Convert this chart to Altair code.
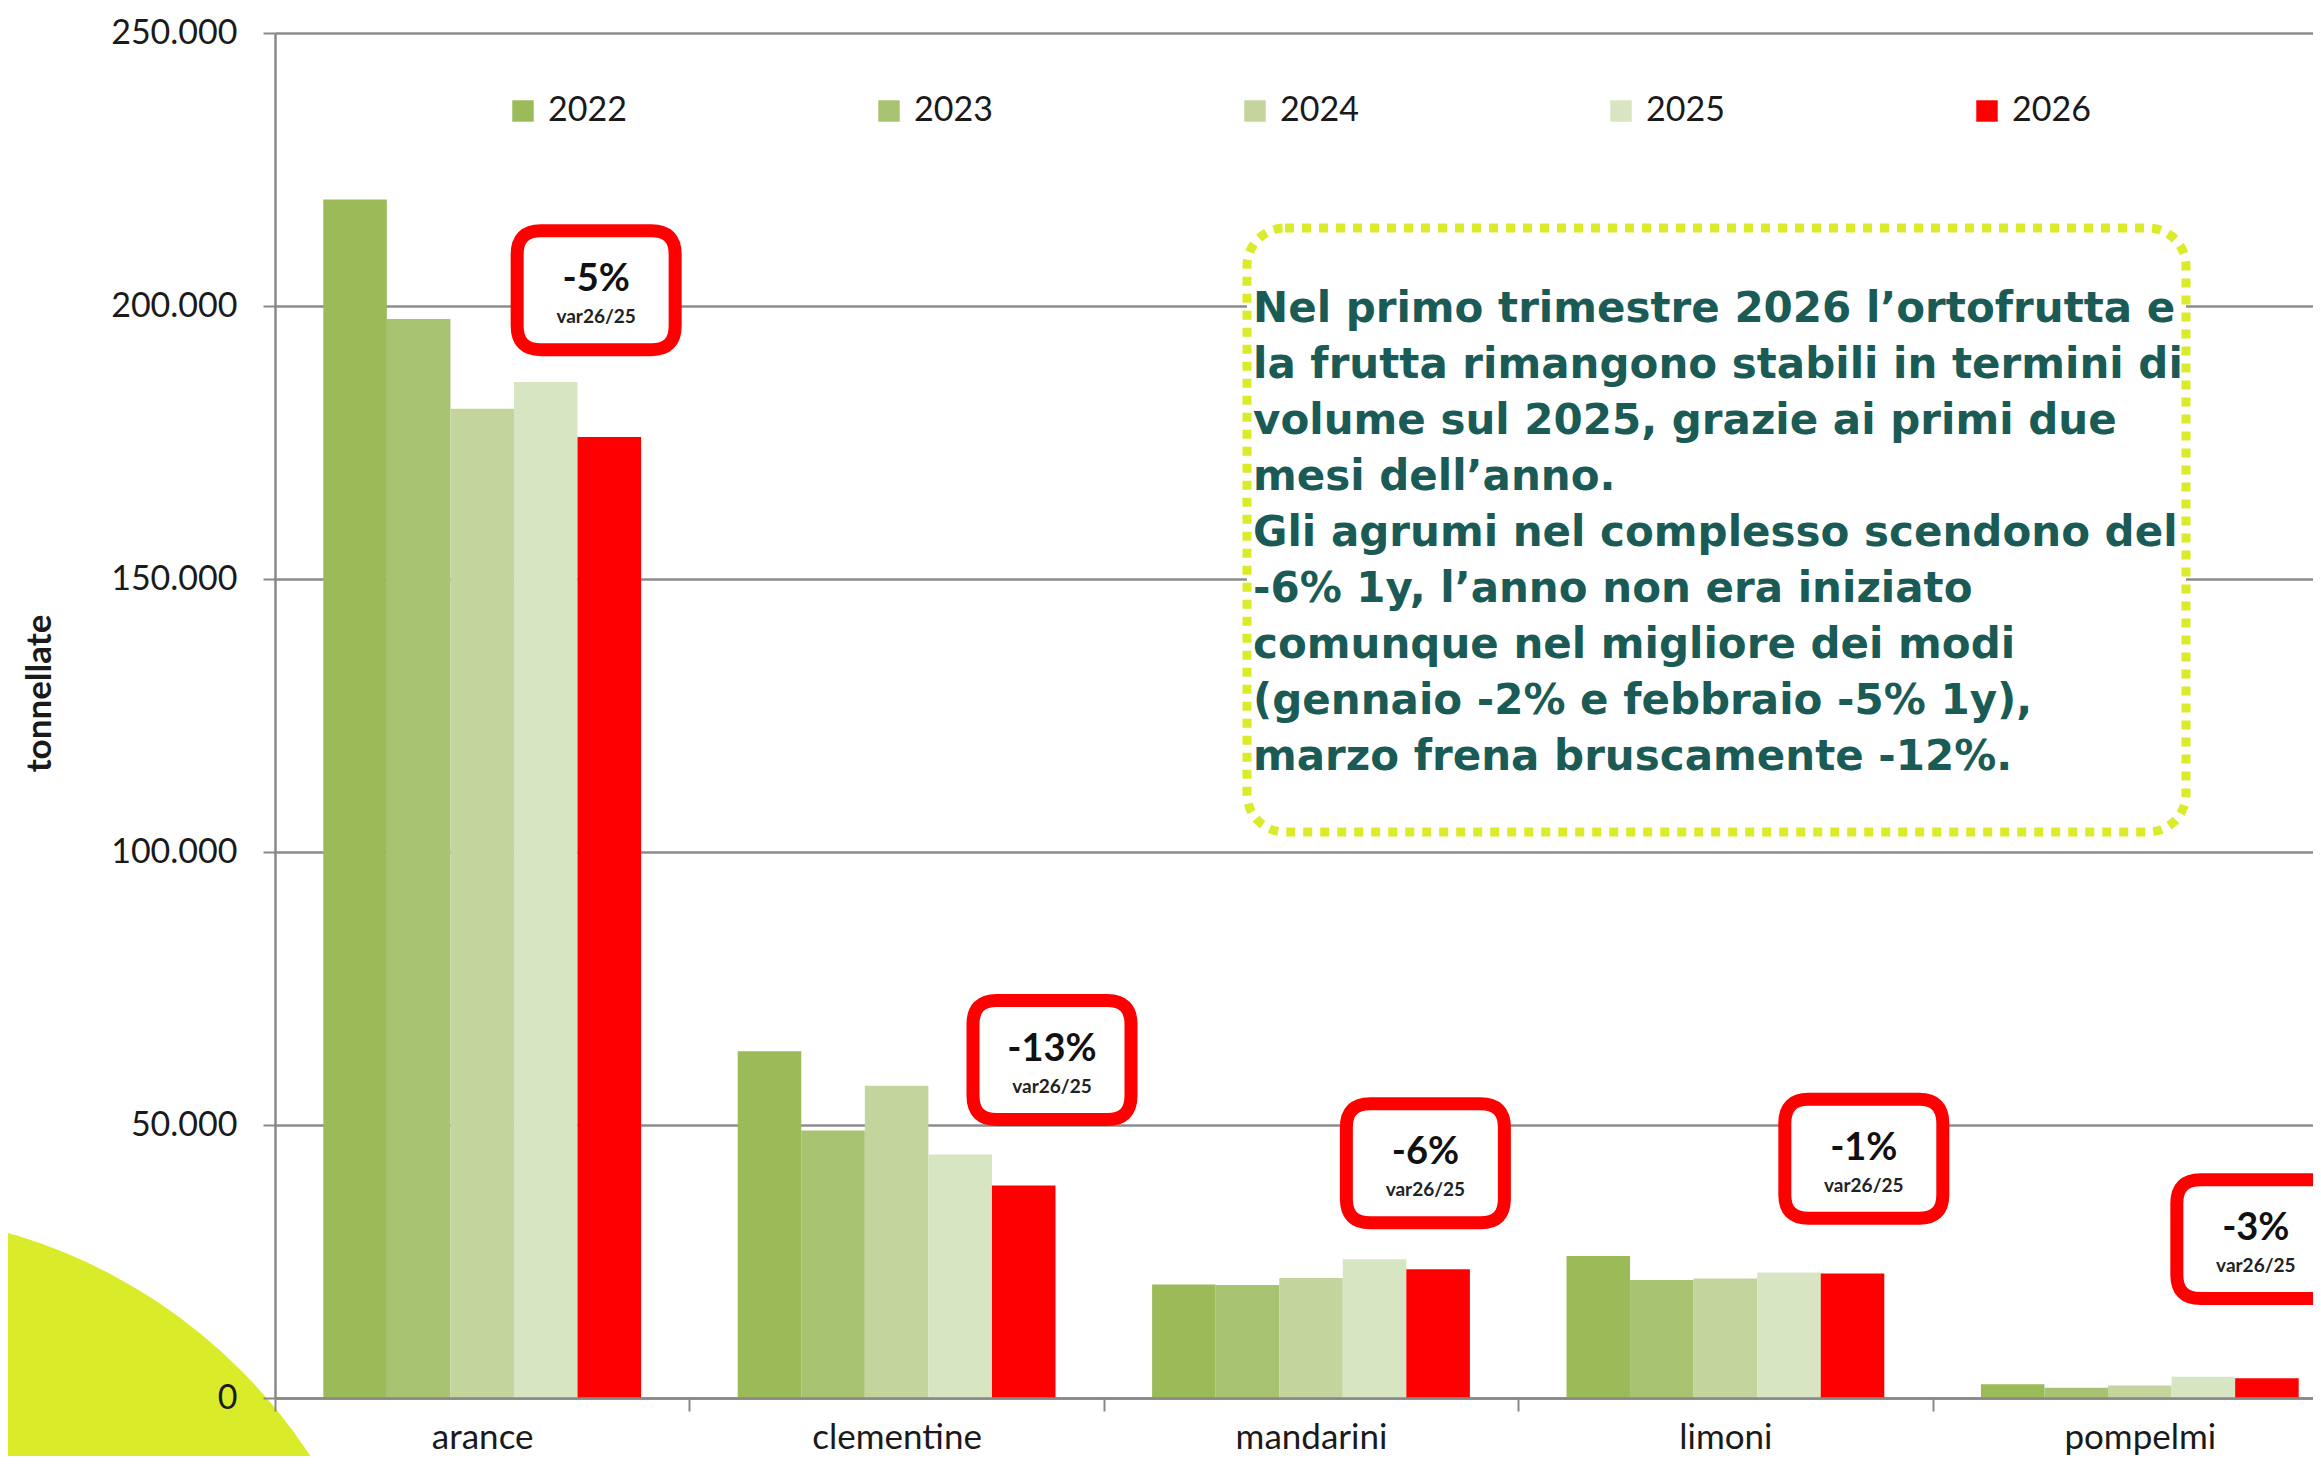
import altair as alt
import pandas as pd

# ---------------- data ----------------
categories = ["arance", "clementine", "mandarini", "limoni", "pompelmi"]
years = ["2022", "2023", "2024", "2025", "2026"]
v2022 = [219500, 63500, 20800, 26000, 2500]
v2023 = [197600, 49000, 20700, 21600, 1900]
v2024 = [181200, 57200, 22000, 21900, 2300]
v2025 = [186100, 44600, 25400, 23000, 3900]
v2026 = [176000, 38900, 23600, 22800, 3600]
y_ticks = [0, 50000, 100000, 150000, 200000, 250000]

badge_labels = ["-5%", "-13%", "-6%", "-1%", "-3%"]
badge_sub = "var26/25"

note_lines = [
    "Nel primo trimestre 2026 l\u2019ortofrutta e",
    "la frutta rimangono stabili in termini di",
    "volume sul 2025, grazie ai primi due",
    "mesi dell\u2019anno.",
    "Gli agrumi nel complesso scendono del",
    "-6% 1y, l\u2019anno non era iniziato",
    "comunque nel migliore dei modi",
    "(gennaio -2% e febbraio -5% 1y),",
    "marzo frena bruscamente -12%.",
]

# ---------------- styles / placement ----------------
year_colors = ["#9bbb59", "#a7c371", "#c3d59c", "#d8e5c3", "#ff0000"]
# badge anchors (data units on y, fraction of the category band on x)
badge_anchor_y = [202900, 61900, 43000, 43800, 29100]
badge_band_pos = [0.775, 0.875, 0.776, 0.834, 0.780]

W, H = 2038, 1365          # visible plot area (page is cropped on the right)
X_RANGE = 2072             # category bands continue past the right edge
GRID = "#8c8c8c"
TXT = "#1a1a1a"

rows = []
for yr, vals in zip(years, [v2022, v2023, v2024, v2025, v2026]):
    for c, v in zip(categories, vals):
        rows.append({"categoria": c, "anno": yr, "tonnellate": v})
df = pd.DataFrame(rows)

x_scale = alt.Scale(domain=categories, range=[0, X_RANGE], paddingInner=0, paddingOuter=0)
y_scale = alt.Scale(domain=[0, 250000], nice=False)

x_axis = alt.Axis(
    title=None,
    labelAngle=0,
    tickBand="extent",
    tickSize=13,
    tickWidth=2,
    tickColor="#888888",
    domainColor="#888888",
    domainWidth=2.5,
    labelFont="Lato",
    labelFontSize=35,
    labelColor=TXT,
    labelPadding=9,
    grid=False,
    zindex=1,
)
# gridlines only, drawn behind the marks
y_grid_axis = alt.Axis(
    orient="left",
    title=None,
    values=y_ticks,
    grid=True,
    gridColor=GRID,
    gridWidth=2.5,
    labels=False,
    ticks=False,
    domain=False,
    zindex=0,
)
# labelled axis, drawn above the decorative disc
y_axis = alt.Axis(
    orient="left",
    title="tonnellate",
    values=y_ticks,
    grid=False,
    labelExpr="replace(format(datum.value, ','), ',', '.')",
    tickSize=12,
    tickWidth=2,
    tickColor="#888888",
    domainColor="#888888",
    domainWidth=2.5,
    labelFont="Lato",
    labelFontSize=34,
    labelColor=TXT,
    labelPadding=26,
    titleFont="Lato",
    titleFontSize=35,
    titleFontWeight="bold",
    titleColor=TXT,
    titleAngle=270,
    titleX=-225,
    titleY=660,
    titleBaseline="alphabetic",
    titleAlign="center",
    zindex=1,
)

one = pd.DataFrame({"k": [0]})

# decorative lime disc in the lower-left corner
disc = alt.Chart(one).mark_circle(color="#d9eb29", opacity=1).encode(
    x=alt.value(-415), y=alt.value(1717), size=alt.value(1157000)
)

bars = alt.Chart(df).mark_bar(opacity=1).encode(
    x=alt.X("categoria:N", sort=categories, scale=x_scale, axis=x_axis),
    xOffset=alt.XOffset(
        "anno:N", sort=years, scale=alt.Scale(paddingOuter=0.76, paddingInner=0)
    ),
    y=alt.Y("tonnellate:Q", scale=y_scale, axis=y_grid_axis),
    color=alt.Color(
        "anno:N",
        sort=years,
        scale=alt.Scale(domain=years, range=year_colors),
        legend=alt.Legend(
            title=None,
            orient="none",
            legendX=231,
            legendY=61,
            direction="horizontal",
            columns=5,
            columnPadding=245,
            padding=0,
            symbolType="square",
            symbolSize=460,
            symbolStrokeWidth=0,
            labelFont="Lato",
            labelFontSize=34,
            labelColor=TXT,
            labelOffset=8,
        ),
    ),
)

# invisible layer that carries the labelled y axis
axis_carrier = alt.Chart(df).mark_tick(opacity=0).encode(
    x=alt.X("categoria:N", sort=categories, scale=x_scale, axis=x_axis),
    y=alt.Y("tonnellate:Q", scale=y_scale, axis=y_axis),
)

# text box with dotted lime border
note_box = alt.Chart(one).mark_rect(
    fill="white",
    stroke="#d9eb29",
    strokeWidth=9,
    strokeDash=[9, 8],
    cornerRadius=38,
).encode(x=alt.value(972), x2=alt.value(1911), y=alt.value(195), y2=alt.value(799))

note_text = alt.Chart(pd.DataFrame({"t": ["\n".join(note_lines)]})).mark_text(
    align="left",
    baseline="alphabetic",
    font="DejaVu Sans",
    fontWeight="bold",
    fontSize=42,
    lineHeight=56,
    lineBreak="\n",
    color="#1b5b56",
).encode(x=alt.value(978), y=alt.value(289), text="t:N")

BOX = (
    "M -0.7 -0.753 L 0.7 -0.753 Q 1 -0.753 1 -0.453 L 1 0.453 "
    "Q 1 0.753 0.7 0.753 L -0.7 0.753 Q -1 0.753 -1 0.453 "
    "L -1 -0.453 Q -1 -0.753 -0.7 -0.753 Z"
)

badge_layers = []
for cat, lab, yv, bp in zip(categories, badge_labels, badge_anchor_y, badge_band_pos):
    d = pd.DataFrame({"categoria": [cat], "y": [yv], "lab": [lab], "sub": [badge_sub]})
    base = alt.Chart(d).encode(
        x=alt.X("categoria:N", bandPosition=bp, scale=x_scale, sort=categories, axis=x_axis),
        y=alt.Y("y:Q", scale=y_scale, axis=None),
    )
    box = base.mark_point(
        shape=BOX,
        size=24964,
        filled=True,
        fill="white",
        stroke="#ff0000",
        strokeWidth=13,
        opacity=1,
        fillOpacity=1,
    )
    t1 = base.mark_text(
        font="Lato", fontWeight="bold", fontSize=38, dy=-10, color="#111111", baseline="middle"
    ).encode(text="lab:N")
    t2 = base.mark_text(
        font="Lato", fontWeight="bold", fontSize=19, dy=27, color="#222222", baseline="middle"
    ).encode(text="sub:N")
    badge_layers += [box, t1, t2]

chart = (
    alt.layer(disc, bars, note_box, note_text, axis_carrier, *badge_layers)
    .resolve_axis(y="independent")
    .properties(
        width=W,
        height=H,
        autosize=alt.AutoSizeParams(type="none"),
        padding={"left": 267, "top": 25, "right": 0, "bottom": 58},
        background="white",
    )
    .configure_view(stroke=None)
)

chart.save("out.html", embed_options={"renderer": "svg", "actions": False})
